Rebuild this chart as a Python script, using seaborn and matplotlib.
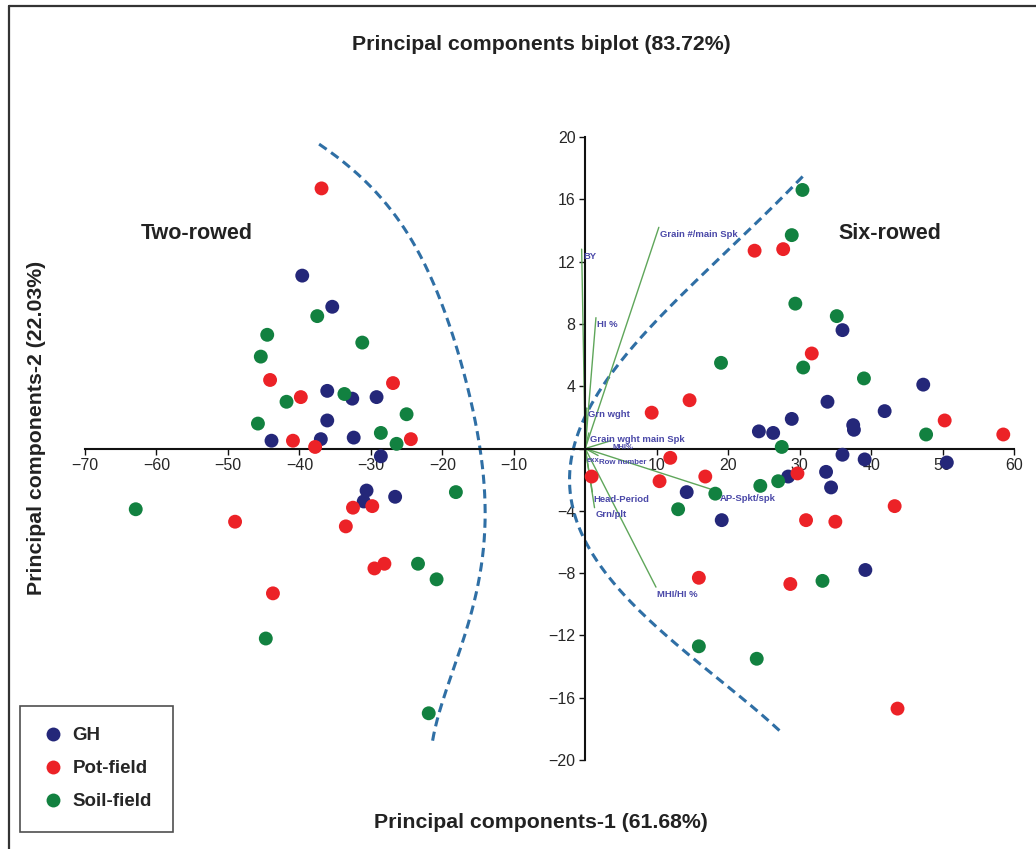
import numpy as np
import pandas as pd
import matplotlib
matplotlib.use('Agg')
import matplotlib.pyplot as plt
import seaborn as sns

# scores on PC1 / PC2 per environment
gh_x = [-39.6, -35.4, -36.1, -32.6, -29.2, -36.1, -43.9, -37.0, -32.4, -28.6, -30.6, -31.0, -26.6,
        36.0, 47.3, 33.9, 41.9, 28.9, 24.3, 26.3, 37.5, 37.6, 36.0, 39.1, 50.6, 14.2, 19.1, 28.4,
        33.7, 34.4, 39.2]
gh_y = [11.1, 9.1, 3.7, 3.2, 3.3, 1.8, 0.5, 0.6, 0.7, -0.5, -2.7, -3.4, -3.1,
        7.6, 4.1, 3.0, 2.4, 1.9, 1.1, 1.0, 1.5, 1.2, -0.4, -0.7, -0.9, -2.8, -4.6, -1.8,
        -1.5, -2.5, -7.8]

pot_x = [-36.9, -44.1, -26.9, -39.8, -40.9, -24.4, -37.8, -49.0, -32.5, -29.8, -33.5, -29.5, -28.1, -43.7,
         23.7, 27.7, 31.7, 14.6, 9.3, 50.3, 58.5, 11.9, 10.4, 16.8, 0.9, 29.7, 43.3, 30.9, 35.0,
         15.9, 28.7, 43.7]
pot_y = [16.7, 4.4, 4.2, 3.3, 0.5, 0.6, 0.1, -4.7, -3.8, -3.7, -5.0, -7.7, -7.4, -9.3,
         12.7, 12.8, 6.1, 3.1, 2.3, 1.8, 0.9, -0.6, -2.1, -1.8, -1.8, -1.6, -3.7, -4.6, -4.7,
         -8.3, -8.7, -16.7]

soil_x = [-37.5, -44.5, -31.2, -45.4, -33.7, -41.8, -25.0, -45.8, -28.6, -26.4, -62.9, -18.1, -23.4,
          -20.8, -44.7, -21.9,
          30.4, 28.9, 29.4, 35.2, 19.0, 30.5, 39.0, 47.7, 27.5, 18.2, 13.0, 24.5, 27.0, 33.2,
          15.9, 24.0]
soil_y = [8.5, 7.3, 6.8, 5.9, 3.5, 3.0, 2.2, 1.6, 1.0, 0.3, -3.9, -2.8, -7.4,
          -8.4, -12.2, -17.0,
          16.6, 13.7, 9.3, 8.5, 5.5, 5.2, 4.5, 0.9, 0.1, -2.9, -3.9, -2.4, -2.1, -8.5,
          -12.7, -13.5]

# trait loadings (scaled)
traits = ['Grain #/main Spk', 'BY', 'HI %', 'Grn wght', 'Grain wght main Spk', 'MHI%',
          'exx', 'Row number', 'Head-Period', 'Grn/plt', 'AP-Spkt/spk', 'MHI/HI %']
load_x = [10.3, -0.5, 1.5, 0.2, 0.5, 3.6, 0.0, 1.8, 1.0, 1.3, 17.5, 9.9]
load_y = [14.2, 12.8, 8.4, 2.6, 1.0, 0.5, -0.3, -0.45, -2.8, -3.8, -2.6, -8.9]

# hand-drawn separating curves (guide points)
two_row_y = [19.72, 18.05, 15.74, 13.81, 11.43, 7.77, 3.53, 0.32, -5.07, -7.19, -11.50, -15.74, -18.76]
two_row_x = [-37.76, -32.87, -28.25, -24.90, -21.68, -18.88, -16.36, -14.97, -13.99, -14.41, -16.36, -19.86, -21.26]
six_row_y = [17.53, 14.64, 8.86, 5.46, 3.08, 0.32, -1.22, -5.46, -7.64, -10.40, -12.97, -16.18, -18.11]
six_row_x = [30.77, 23.78, 11.89, 4.90, 0.70, -1.68, -1.82, -0.70, 2.10, 7.97, 14.27, 21.26, 27.69]

groups = ['GH', 'Pot-field', 'Soil-field']
palette = {'GH': '#242779', 'Pot-field': '#ec2227', 'Soil-field': '#128140'}

df = pd.DataFrame({
    'pc1': gh_x + pot_x + soil_x,
    'pc2': gh_y + pot_y + soil_y,
    'env': ['GH'] * len(gh_x) + ['Pot-field'] * len(pot_x) + ['Soil-field'] * len(soil_x),
})

sns.set_style('white')
plt.rcParams['font.family'] = ['Liberation Sans', 'DejaVu Sans']

fig = plt.figure(figsize=(10.36, 8.49), dpi=100)
ax = fig.add_axes([85 / 1036, 1 - 760 / 849, (1014 - 85) / 1036, (760 - 137) / 849])

sns.scatterplot(data=df, x='pc1', y='pc2', hue='env', hue_order=groups, palette=palette,
                s=100, linewidth=0, ax=ax, zorder=3, clip_on=False)

# loading vectors
small = {'MHI%': 5.5, 'exx': 5.5, 'Row number': 5.7}
for name, lx, ly in zip(traits, load_x, load_y):
    ax.plot([0, lx], [0, ly], color='#5fa65a', lw=1.0, zorder=2)
    off = (7, -7) if name == 'AP-Spkt/spk' else (1, -5)
    ax.annotate(name, (lx, ly), xytext=off, textcoords='offset points',
                fontsize=small.get(name, 6.8), fontweight='bold', color='#4a48a8',
                ha='left', va='center',
                family=['Liberation Sans Narrow', 'Liberation Sans'], zorder=4)

# dashed group boundaries
for gy, gx in [(two_row_y, two_row_x), (six_row_y, six_row_x)]:
    yy = np.linspace(min(gy), max(gy), 200)
    xx = np.polyval(np.polyfit(gy, gx, 5), yy)
    ax.plot(xx, yy, ls=(0, (3, 1.8)), color='#2f6fa5', lw=2.2, zorder=1, clip_on=False)

ax.text(-54.3, 13.8, 'Two-rowed', fontsize=15.5, fontweight='bold', ha='center', va='center', color='#222222')
ax.text(42.7, 13.8, 'Six-rowed', fontsize=15.5, fontweight='bold', ha='center', va='center', color='#222222')

ax.set_xlim(-70, 60)
ax.set_ylim(-20, 20)
for side in ['top', 'right']:
    ax.spines[side].set_visible(False)
for side in ['left', 'bottom']:
    ax.spines[side].set_position(('data', 0))
    ax.spines[side].set_linewidth(1.5)
    ax.spines[side].set_color('#111111')

xt = list(range(-70, 61, 10))
yt = list(range(-20, 21, 4))
ax.set_xticks(xt, ['' if v == 0 else str(v).replace('-', '\u2212') for v in xt])
ax.set_yticks(yt, ['' if v == 0 else str(v).replace('-', '\u2212') for v in yt])
ax.tick_params(axis='both', direction='out', length=4, width=1, labelsize=11.5, color='#111111', pad=3,
               bottom=True, left=True)
ax.set_xlabel('')
ax.set_ylabel('')

sns.move_legend(ax, 'lower left', bbox_to_anchor=(20 / 1036, 17 / 849), bbox_transform=fig.transFigure,
                title=None, frameon=True, fancybox=False, edgecolor='#222222',
                prop={'weight': 'bold', 'size': 13.5}, borderpad=1.15, labelspacing=0.85,
                borderaxespad=0, handletextpad=0.45, handlelength=1.2, markerscale=1.0)
leg = ax.get_legend()
leg.get_frame().set_linewidth(1.2)
leg.set_zorder(5)

fig.text(541 / 1036, 1 - 45 / 849, 'Principal components biplot (83.72%)', fontsize=15.3,
         fontweight='bold', ha='center', va='center', color='#222222')
fig.text(541 / 1036, 1 - 822 / 849, 'Principal components-1 (61.68%)', fontsize=15.3,
         fontweight='bold', ha='center', va='center', color='#222222')
fig.text(37 / 1036, 1 - 428 / 849, 'Principal components-2 (22.03%)', fontsize=15.3,
         fontweight='bold', ha='center', va='center', rotation=90, color='#222222')

# outer frame (top and left edges)
fig.add_artist(plt.Line2D([9 / 1036, 9 / 1036], [0, 1 - 6 / 849], transform=fig.transFigure,
                          color='#333333', lw=1.6))
fig.add_artist(plt.Line2D([9 / 1036, 1], [1 - 6 / 849, 1 - 6 / 849], transform=fig.transFigure,
                          color='#333333', lw=1.6))

fig.savefig('out.png', dpi=100)
